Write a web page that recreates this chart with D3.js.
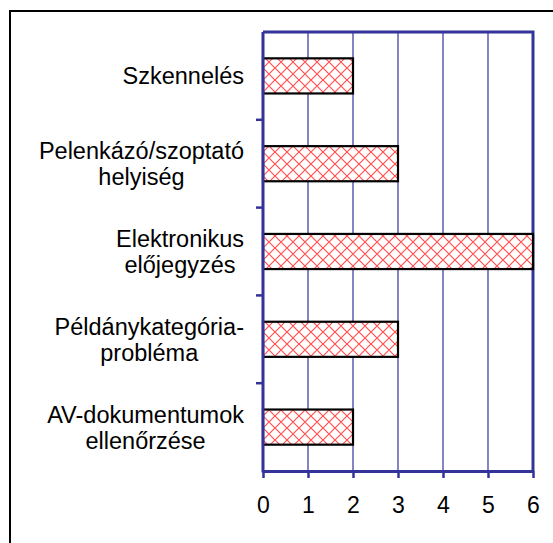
<!DOCTYPE html>
<html>
<head>
<meta charset="utf-8">
<script src="https://cdn.jsdelivr.net/npm/d3@7"></script>
<style>
  body { margin: 0; background: #fff; }
  text { font-family: "Liberation Sans", Arial, sans-serif; fill: #000; }
</style>
</head>
<body>
<script>
// categories top to bottom, each label split into its lines
const categories = [
  ["Szkennelés"],
  ["Pelenkázó/szoptató", "helyiség"],
  ["Elektronikus", "előjegyzés"],
  ["Példánykategória-", "probléma"],
  ["AV-dokumentumok", "ellenőrzése"]
];
const values = [2, 3, 6, 3, 2];
const xTicks = [0, 1, 2, 3, 4, 5, 6];

const W = 553, H = 543;
const margin = {top: 32, right: 20, bottom: 72, left: 263};
const width = 533 - margin.left;
const height = 471 - margin.top;
const axisColor = "#333399";
const fontSize = 23.5;

const svg = d3.select("body").append("svg")
    .attr("width", W)
    .attr("height", H);

// hatch pattern for the bars
const defs = svg.append("defs");
const pat = defs.append("pattern")
    .attr("id", "hatch")
    .attr("patternUnits", "userSpaceOnUse")
    .attr("width", 12)
    .attr("height", 12);
pat.append("rect").attr("width", 12).attr("height", 12).attr("fill", "#fff");
pat.append("path")
    .attr("d", "M0,0 L12,12 M12,0 L0,12")
    .attr("stroke", "#ff5050")
    .attr("stroke-width", 1.2);

// outer frame
svg.append("rect")
    .attr("x", 10).attr("y", 11)
    .attr("width", W + 20).attr("height", H + 20)
    .attr("fill", "none")
    .attr("stroke", "#000")
    .attr("stroke-width", 2);

const g = svg.append("g")
    .attr("transform", "translate(" + margin.left + "," + margin.top + ")");

const x = d3.scaleLinear().domain([0, 6]).range([0, width]);
const y = d3.scaleBand().domain(d3.range(categories.length)).range([0, height]).paddingInner(0.6).paddingOuter(0.3);
const yb = d3.scaleBand().domain(d3.range(categories.length)).range([0, height]);

// gridlines
g.append("g")
    .selectAll("line")
    .data(xTicks.slice(1, -1))
    .enter().append("line")
    .attr("x1", d => x(d)).attr("x2", d => x(d))
    .attr("y1", 0).attr("y2", height)
    .attr("stroke", axisColor)
    .attr("stroke-width", 1.2);

// top and right plot border
g.append("path")
    .attr("d", "M0,0H" + width + "V" + height)
    .attr("fill", "none")
    .attr("stroke", axisColor)
    .attr("stroke-width", 3);

// bars
g.append("g")
    .selectAll("rect")
    .data(values)
    .enter().append("rect")
    .attr("x", x(0))
    .attr("y", (d, i) => y(i))
    .attr("width", d => x(d) - x(0))
    .attr("height", y.bandwidth())
    .attr("fill", "url(#hatch)")
    .attr("stroke", "#000")
    .attr("stroke-width", 2.2);

// bottom axis
const xAxis = g.append("g")
    .attr("transform", "translate(0," + height + ")")
    .call(d3.axisBottom(x).tickValues(xTicks).tickSize(7).tickSizeOuter(0).tickPadding(19).tickFormat(d3.format("d")));
xAxis.select(".domain").attr("stroke", axisColor).attr("stroke-width", 3);
xAxis.selectAll(".tick line").attr("stroke", axisColor).attr("stroke-width", 2.5);
xAxis.selectAll(".tick text").attr("font-size", 23).style("font-family", "Liberation Sans, Arial, sans-serif").attr("fill", "#000");

// left axis with ticks at band boundaries
const yAxis = g.append("g");
yAxis.append("line")
    .attr("x1", 0).attr("x2", 0).attr("y1", 0).attr("y2", height + 1.5)
    .attr("stroke", axisColor).attr("stroke-width", 3);
yAxis.selectAll(".ytick")
    .data(d3.range(1, categories.length))
    .enter().append("line")
    .attr("x1", -7).attr("x2", 0)
    .attr("y1", d => yb(d)).attr("y2", d => yb(d))
    .attr("stroke", axisColor).attr("stroke-width", 2.5);

// category labels: lines centered, block right aligned
const lineH = 26, capH = 17;
const labelRight = 244 - margin.left;
categories.forEach((lines, i) => {
  const grp = g.append("g");
  const texts = lines.map((t, j) => grp.append("text")
      .attr("font-size", fontSize)
      .attr("text-anchor", "middle")
      .attr("y", yb(i) + yb.bandwidth() / 2 + capH / 2 - (lines.length - 1) * lineH / 2 + j * lineH)
      .text(t));
  const maxW = d3.max(texts, t => t.node().getComputedTextLength());
  texts.forEach(t => t.attr("x", labelRight - maxW / 2));
});
</script>
</body>
</html>
